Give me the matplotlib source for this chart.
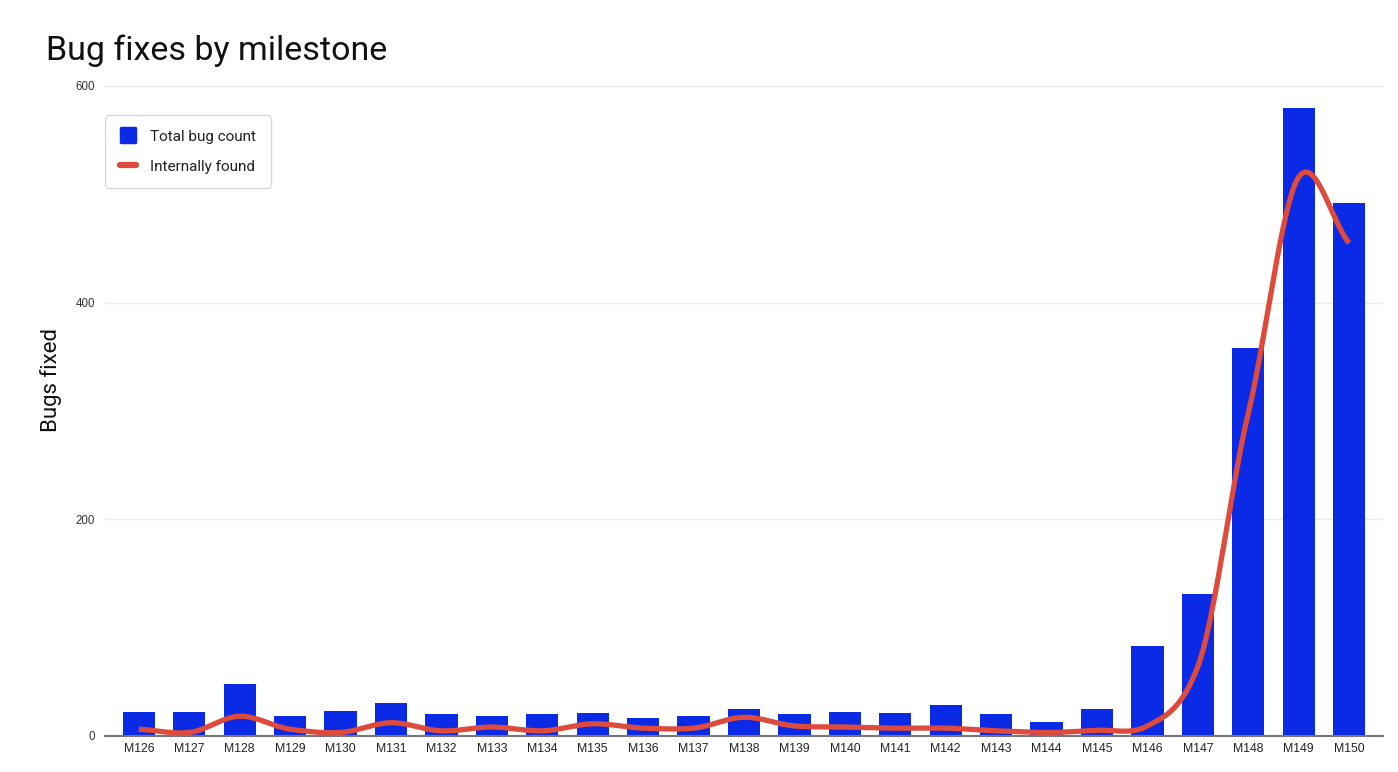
import numpy as np
import matplotlib
matplotlib.use("Agg")
import matplotlib.pyplot as plt
from matplotlib.lines import Line2D
from matplotlib.markers import MarkerStyle

# ---- data ----
milestones = ["M126", "M127", "M128", "M129", "M130", "M131", "M132", "M133",
              "M134", "M135", "M136", "M137", "M138", "M139", "M140", "M141",
              "M142", "M143", "M144", "M145", "M146", "M147", "M148", "M149", "M150"]
total_bugs = [22, 22, 48, 18, 23, 30, 20, 18, 20, 21, 16, 18, 25, 20, 22, 21,
              28, 20, 13, 25, 83, 131, 358, 580, 492]
internal_bugs = [6, 3, 18, 6, 3, 12, 4.5, 8, 4.5, 11, 7, 7, 17, 9, 8, 7,
                 7, 4.5, 3, 5, 9, 64, 298, 516, 455]
y_ticks = [0, 200, 400, 600]

BLUE = "#0a2ae6"
RED = "#de4a3c"


def smooth(xs, ys, n=30, k=0.85):
    """Cubic Hermite (cardinal spline) smoothing for display of the line."""
    xs = np.asarray(xs, float)
    ys = np.asarray(ys, float)
    m = np.empty_like(ys)
    m[1:-1] = k * (ys[2:] - ys[:-2]) / 2.0
    m[0] = k * (ys[1] - ys[0])
    m[-1] = k * (ys[-1] - ys[-2])
    ox, oy = [], []
    t = np.linspace(0, 1, n, endpoint=False)
    for i in range(len(xs) - 1):
        h00 = 2 * t**3 - 3 * t**2 + 1
        h10 = t**3 - 2 * t**2 + t
        h01 = -2 * t**3 + 3 * t**2
        h11 = t**3 - t**2
        oy.extend(h00 * ys[i] + h10 * m[i] + h01 * ys[i + 1] + h11 * m[i + 1])
        ox.extend(xs[i] + t * (xs[i + 1] - xs[i]))
    ox.append(xs[-1])
    oy.append(ys[-1])
    return np.array(ox), np.array(oy)


fig = plt.figure(figsize=(13.98, 7.72), dpi=100)
ax = fig.add_axes([105 / 1398, 1 - 735.7 / 772, (1383 - 105) / 1398, (735.7 - 86) / 772])

x = np.arange(len(milestones))
ax.bar(x, total_bugs, width=0.64, color=BLUE, zorder=2)
sx, sy = smooth(x, internal_bugs)
ax.plot(sx, sy, color=RED, lw=3.8, solid_capstyle="butt", zorder=3)

ax.set_xlim(-0.67, len(milestones) - 1 + 0.67)
ax.set_ylim(0, 600)
ax.set_yticks(y_ticks)
ax.set_yticklabels([str(v) for v in y_ticks], fontsize=8.3, color="#333333",
                   family=["Liberation Sans", "DejaVu Sans"])
ax.set_xticks(x)
ax.set_xticklabels(milestones, fontsize=8.8, color="#222222",
                   family=["Liberation Sans", "DejaVu Sans"])
ax.tick_params(axis="both", length=0)
ax.tick_params(axis="y", pad=7)
ax.tick_params(axis="x", pad=5)
ax.grid(axis="y", color="#ebebeb", lw=1.0, zorder=0)
for s in ["top", "right", "left"]:
    ax.spines[s].set_visible(False)
ax.spines["bottom"].set_color("#777777")
ax.spines["bottom"].set_linewidth(1.5)
ax.spines["bottom"].set_zorder(4)

ax.set_ylabel("Bugs fixed", fontsize=16, family=["Roboto", "DejaVu Sans"],
              color="#111111")
ax.yaxis.set_label_coords(-0.034, 0.547)

fig.text(46 / 1398, 1 - 60 / 772, "Bug fixes by milestone", fontsize=24.5,
         family=["Roboto", "DejaVu Sans"], color="#111111", ha="left", va="baseline")

handles = [
    Line2D([], [], ls="none", marker=MarkerStyle("s", joinstyle="round"),
           ms=10, mew=2.5, mfc=BLUE, mec=BLUE),
    Line2D([], [], color=RED, lw=4.5, solid_capstyle="round"),
]
leg = ax.legend(handles, ["Total bug count", "Internally found"],
                loc="upper left", bbox_to_anchor=(0.0, 0.955),
                borderaxespad=0, frameon=True, fancybox=True,
                prop={"family": ["Roboto", "DejaVu Sans"], "size": 11},
                handlelength=1.1, handletextpad=0.9, labelspacing=1.05,
                borderpad=0.95)
leg.get_frame().set_edgecolor("#cccccc")
leg.get_frame().set_linewidth(0.9)
leg.get_frame().set_boxstyle("round,pad=0,rounding_size=0.3")
for t in leg.get_texts():
    t.set_color("#202020")

fig.savefig("out.png", dpi=100, facecolor="white")
